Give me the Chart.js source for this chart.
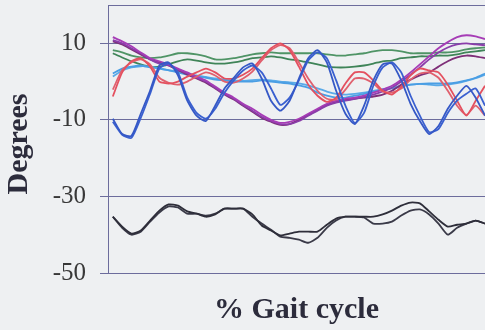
<!DOCTYPE html>
<html>
<head>
<meta charset="utf-8">
<script src="https://cdn.jsdelivr.net/npm/chart.js@4/dist/chart.umd.min.js"></script>
<style>
  html, body { margin: 0; padding: 0; background: #eef0f2; }
  canvas { display: block; }
</style>
</head>
<body>
<canvas id="gait" width="485" height="330"></canvas>
<script>
// % of gait cycle at which each angle was sampled
const gaitPct = [0, 2.5, 5, 7.5, 10, 12.5, 15, 17.5, 20, 22.5, 25, 27.5, 30, 32.5, 35, 37.5, 40,
  42.5, 45, 47.5, 50, 52.5, 55, 57.5, 60, 62.5, 65, 67.5, 70, 72.5, 75, 77.5, 80, 82.5, 85,
  87.5, 90, 92.5, 95, 97.5, 100];

// Joint angles in degrees, two trials per joint
const blueA = [-9.7, -13.7, -14.2, -8.4, -2.4, 4.2, 5.0, 1.6, -5.0, -8.9, -10.3, -6.3, -1.8, 1.0, 3.7, 4.7, 0.8,
  -5.0, -7.6, -5.0, 0.8, 6.1, 8.2, 5.0, -2.4, -8.4, -11.1, -6.3, 0.3, 4.5, 4.7, 0.3, -5.8, -10.3, -13.7,
  -11.6, -7.1, -3.7, -1.1, -4.2, -8.9];
const blueB = [-10.5, -13.9, -14.7, -9.5, -3.2, 3.4, 4.7, 2.4, -4.2, -8.2, -9.7, -7.1, -2.9, 0.3, 2.9, 4.2, 2.4,
  -1.8, -6.1, -4.2, 0.3, 5.5, 7.6, 6.1, 0.3, -6.3, -10.8, -8.2, -1.1, 3.7, 5.0, 2.4, -3.7, -8.9, -13.2,
  -12.4, -8.2, -5.0, -3.2, -1.8, -6.3];
const redA = [-3.9, 2.4, 5.3, 6.1, 3.9, 0.0, -0.5, 0.0, 1.3, 2.4, 3.4, 2.4, 0.8, 0.8, 1.8, 3.4, 6.1,
  8.7, 10.0, 8.2, 3.9, -0.8, -3.7, -5.3, -4.2, -0.5, 2.4, 2.4, 0.3, -2.4, -3.4, -1.3, 1.6, 3.4, 2.9,
  2.4, -0.8, -5.0, -8.9, -5.0, -1.1];
const redB = [-2.1, 3.0, 5.0, 5.8, 4.5, 1.0, -0.3, -0.8, 0.0, 1.3, 2.4, 1.6, 0.0, -0.3, 0.8, 2.6, 5.5,
  8.2, 9.5, 8.7, 5.0, 0.8, -2.4, -4.5, -4.7, -2.1, 0.8, 0.8, -0.5, -2.6, -2.9, -1.8, 0.5, 2.1, 2.4,
  1.0, -2.4, -6.3, -8.7, -6.3, -8.9];
const purpleA = [11.6, 10.5, 9.2, 7.6, 6.1, 5.3, 4.5, 3.4, 2.4, 1.3, 0.3, -1.3, -2.9, -4.2, -5.8, -7.1, -8.7,
  -10.0, -10.8, -10.5, -9.7, -8.4, -7.1, -5.8, -5.0, -4.5, -4.2, -3.7, -2.9, -2.1, -1.1, 0.5, 2.4, 4.5, 6.6,
  8.7, 10.3, 11.6, 12.1, 11.8, 11.1];
const purpleB = [10.8, 10.0, 8.7, 7.4, 5.8, 4.7, 4.2, 3.2, 2.1, 1.0, 0.0, -1.6, -3.2, -4.5, -6.1, -7.6, -9.2,
  -10.3, -11.1, -11.1, -10.3, -8.9, -7.6, -6.3, -5.5, -5.0, -4.5, -4.0, -3.4, -2.6, -1.6, 0.0, 1.8, 3.7, 5.8,
  7.6, 8.9, 9.7, 10.0, 9.7, 9.5];
const plumA = [10.5, 9.7, 8.4, 7.1, 5.8, 5.0, 4.2, 3.0, 1.8, 0.8, -0.3, -1.8, -3.4, -4.7, -6.3, -7.9, -9.5,
  -10.5, -11.3, -11.1, -10.0, -8.7, -7.4, -6.1, -5.3, -4.7, -4.5, -4.2, -3.9, -3.4, -2.4, -0.8, 0.5, 1.6, 2.4,
  3.9, 5.3, 6.3, 6.8, 6.6, 6.1];
const skyA = [2.1, 3.4, 3.9, 4.2, 3.7, 3.4, 2.9, 2.4, 1.8, 1.3, 1.0, 0.5, 0.3, 0.0, 0.0, 0.0, 0.3,
  0.0, -0.3, -0.5, -1.0, -1.6, -2.9, -3.7, -4.2, -4.2, -3.7, -3.2, -2.6, -2.1, -1.8, -1.3, -0.8, -0.6, -0.5,
  -0.5, -0.5, -0.2, 0.3, 1.0, 2.1];
const skyB = [1.3, 2.9, 3.7, 4.0, 3.9, 3.5, 3.0, 2.6, 2.1, 1.6, 1.2, 0.8, 0.5, 0.3, 0.2, 0.4, 0.5,
  0.3, 0.0, -0.2, -0.5, -1.0, -1.8, -2.6, -3.2, -3.4, -3.2, -2.9, -2.4, -2.0, -1.6, -1.1, -0.8, -0.6, -0.8,
  -1.0, -0.8, -0.4, 0.2, 0.9, 1.8];
const greenA = [8.2, 7.6, 6.8, 6.3, 6.1, 6.3, 6.8, 7.4, 7.4, 7.1, 6.6, 5.8, 5.8, 6.1, 6.6, 7.1, 7.4,
  7.6, 7.4, 7.4, 7.4, 7.4, 7.4, 7.1, 6.8, 6.8, 7.1, 7.4, 7.9, 8.2, 8.2, 7.9, 7.4, 7.4, 7.4,
  7.6, 7.6, 7.9, 8.4, 8.7, 8.9];
const greenB = [7.4, 6.3, 5.3, 4.5, 3.9, 3.9, 4.5, 5.3, 5.8, 5.5, 5.0, 4.7, 4.7, 5.0, 5.5, 6.1, 6.3,
  6.6, 6.3, 5.8, 5.5, 5.0, 4.5, 3.9, 3.7, 3.7, 3.9, 4.2, 4.7, 5.3, 5.5, 6.1, 6.3, 6.6, 6.6,
  6.8, 6.8, 7.1, 7.6, 7.9, 8.2];
const darkA = [-35.3, -37.9, -39.7, -38.9, -36.3, -33.7, -32.1, -32.4, -33.9, -34.5, -35.3, -34.7, -33.2, -33.2,
  -33.2, -34.7, -37.6, -38.9, -40.2, -39.7, -39.2, -39.2, -39.2, -37.4, -35.8, -35.3, -35.3, -35.3, -35.3,
  -34.7, -33.7, -32.4, -31.6, -31.8, -33.9, -36.1, -37.9, -37.4, -37.1, -36.3, -37.1];
const darkB = [-35.3, -38.2, -40.0, -39.2, -36.6, -34.2, -32.6, -32.9, -34.5, -34.5, -35.0, -34.5, -33.2, -33.2,
  -33.2, -35.3, -37.1, -38.7, -40.5, -40.8, -41.3, -42.1, -40.8, -38.2, -36.3, -35.3, -35.3, -35.5, -37.1,
  -37.1, -36.6, -35.0, -33.7, -33.4, -34.7, -37.1, -40.0, -38.2, -37.1, -36.3, -37.1];

// Labelled y ticks and the top of the frame
const yTickValues = [-50, -30, -10, 10];
const yMax = 20;
const yTitle = 'Degrees';

const frameColor = '#6c6c9c';
const serif = '"Liberation Serif", "Times New Roman", serif';
const titleFont = 'bold 30px ' + serif;

const line = (data, color) => ({
  data, borderColor: color, borderWidth: 1.8, pointRadius: 0,
  tension: 0.2, fill: false
});

// Vertical axis title, set a little below the middle of the axis
const yTitlePlugin = {
  id: 'yTitle',
  afterDraw(chart) {
    const ctx = chart.ctx;
    const area = chart.chartArea;
    ctx.save();
    ctx.translate(19, (area.top + area.bottom) / 2 + 5);
    ctx.rotate(-Math.PI / 2);
    ctx.font = titleFont;
    ctx.fillStyle = '#2c2c3c';
    ctx.textAlign = 'center';
    ctx.textBaseline = 'middle';
    ctx.fillText(yTitle, 0, 0);
    ctx.restore();
  }
};

new Chart(document.getElementById('gait'), {
  type: 'line',
  data: {
    labels: gaitPct,
    datasets: [
      line(blueA, '#3558c6'),
      line(blueB, '#3a60d0'),
      line(redA, '#e4505f'),
      line(redB, '#e0606e'),
      line(purpleA, '#a63cb6'),
      line(purpleB, '#8a3eaa'),
      line(plumA, '#7e2f78'),
      line(skyA, '#4a9ee4'),
      line(skyB, '#5aaae8'),
      line(greenA, '#4f9466'),
      line(greenB, '#3f8458'),
      line(darkA, '#2e2e3a'),
      line(darkB, '#3a3a48')
    ]
  },
  plugins: [yTitlePlugin],
  options: {
    responsive: false,
    animation: false,
    layout: { padding: { top: 5, right: 0, bottom: 0, left: 0 } },
    plugins: { legend: { display: false }, tooltip: { enabled: false } },
    scales: {
      x: {
        type: 'linear',
        min: -1.3,
        max: 100,
        ticks: { display: false },
        grid: { display: false },
        border: { color: frameColor, width: 1 },
        title: {
          display: true,
          text: '% Gait cycle',
          color: '#2c2c3c',
          font: { family: serif, size: 30, weight: 'bold' },
          padding: { top: 11, bottom: 2 }
        },
        afterFit: s => { s.paddingLeft = 0; s.paddingRight = 0; }
      },
      y: {
        min: yTickValues[0],
        max: yMax,
        afterBuildTicks: s => { s.ticks = [...yTickValues, yMax].map(v => ({ value: v })); },
        ticks: {
          color: '#383838',
          padding: 14,
          font: { family: serif, size: 25 },
          callback: v => (v === yMax ? '' : String(v))
        },
        grid: {
          color: frameColor,
          lineWidth: 1,
          tickLength: 8,
          tickColor: ctx => (ctx.tick && ctx.tick.value === yMax ? 'rgba(0,0,0,0)' : frameColor)
        },
        border: { color: frameColor, width: 1 },
        afterFit: s => { s.width = 108; s.paddingTop = 0; s.paddingBottom = 0; }
      }
    }
  }
});
</script>
</body>
</html>
